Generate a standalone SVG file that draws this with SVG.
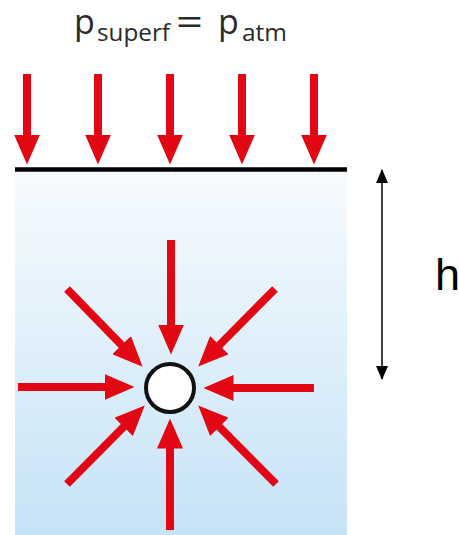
<svg xmlns="http://www.w3.org/2000/svg" width="459" height="535" viewBox="0 0 459 535">
<style>
.red{stroke:#e30613;stroke-width:8;fill:none;marker-end:url(#rh)}
.lbl{font-family:"Open Sans","Liberation Sans",sans-serif;fill:#2a2a2a}
</style>
<defs>
<linearGradient id="water" x1="0" y1="0" x2="0" y2="1">
<stop offset="0" stop-color="#f7fbfe"/>
<stop offset="1" stop-color="#c6e3f6"/>
</linearGradient>
<marker id="rh" markerUnits="userSpaceOnUse" markerWidth="30" markerHeight="26" viewBox="0 0 30 26" refX="0.5" refY="13" orient="auto">
<path d="M0,0 L30,13 L0,26 z" fill="#e30613"/>
</marker>
<marker id="kh" markerUnits="userSpaceOnUse" markerWidth="14" markerHeight="12" viewBox="0 0 14 12" refX="13" refY="6" orient="auto-start-reverse">
<path d="M0,0 L14,6 L0,12 z" fill="#000"/>
</marker>
</defs>
<rect id="water-body" x="15" y="171" width="332" height="364" fill="url(#water)"/>
<g id="title">
<text class="lbl" x="74" y="34" font-size="34">p</text>
<text class="lbl" x="97" y="41" font-size="23" textLength="73" lengthAdjust="spacingAndGlyphs">superf</text>
<text class="lbl" x="176" y="35" font-size="36" textLength="27" lengthAdjust="spacingAndGlyphs">=</text>
<text class="lbl" x="218" y="34" font-size="34">p</text>
<text class="lbl" x="242" y="41" font-size="23" textLength="45" lengthAdjust="spacingAndGlyphs">atm</text>
</g>
<g id="surface">
<line x1="15" y1="169.5" x2="347" y2="169.5" stroke="#000" stroke-width="4.5"/>
</g>
<g id="connectors">
<line class="red" x1="27" y1="74" x2="27" y2="135"/>
<line class="red" x1="98" y1="74" x2="98" y2="135"/>
<line class="red" x1="170" y1="74" x2="170" y2="135"/>
<line class="red" x1="242" y1="74" x2="242" y2="135"/>
<line class="red" x1="314" y1="74" x2="314" y2="135"/>
<line class="red" x1="171" y1="240" x2="171" y2="325"/>
<line class="red" x1="170" y1="530" x2="170" y2="448"/>
<line class="red" x1="18" y1="387" x2="105" y2="387"/>
<line class="red" x1="314" y1="388" x2="233" y2="388"/>
<line class="red" x1="67" y1="289" x2="122" y2="345.5"/>
<line class="red" x1="275" y1="289" x2="219" y2="345.5"/>
<line class="red" x1="67" y1="484" x2="124" y2="426.5"/>
<line class="red" x1="276" y1="484" x2="219" y2="426.5"/>
<line x1="382" y1="170" x2="382" y2="379" stroke="#000" stroke-width="1.5" marker-start="url(#kh)" marker-end="url(#kh)"/>
</g>
<g id="bubble">
<circle cx="170" cy="388" r="24" fill="#fff" stroke="#111" stroke-width="4"/>
</g>
<g id="depth-label">
<text x="435" y="290" font-family="Liberation Sans, Arial, sans-serif" font-size="45" fill="#000">h</text>
</g>
</svg>
